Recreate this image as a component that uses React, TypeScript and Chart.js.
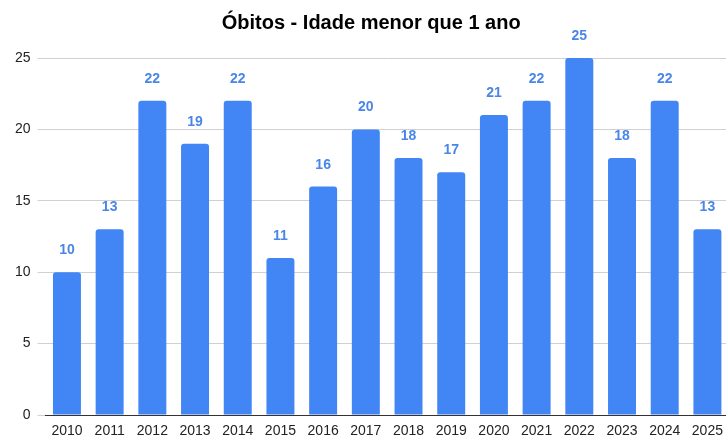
import React, { useEffect, useRef } from "react";
import { Chart, registerables } from "chart.js";

Chart.register(...registerables);

const years = ["2010","2011","2012","2013","2014","2015","2016","2017","2018","2019","2020","2021","2022","2023","2024","2025"];
const deaths = [10, 13, 22, 19, 22, 11, 16, 20, 18, 17, 21, 22, 25, 18, 22, 13];
const yTicks = [0, 5, 10, 15, 20, 25];
const titleText = "Óbitos - Idade menor que 1 ano";

const FONT = "'Liberation Sans', Arial, sans-serif";

const labelPlugin = {
  id: "barLabels",
  afterDatasetsDraw(chart: any) {
    const ctx = chart.ctx;
    const meta = chart.getDatasetMeta(0);
    ctx.save();
    ctx.font = `bold 14px ${FONT}`;
    ctx.fillStyle = "#4a86e8";
    ctx.textAlign = "center";
    ctx.textBaseline = "alphabetic";
    meta.data.forEach((el: any, i: number) => {
      ctx.fillText(String(deaths[i]), el.x, el.y - 18);
    });
    ctx.restore();
  },
};

export default function App() {
  const ref = useRef<HTMLCanvasElement | null>(null);
  useEffect(() => {
    if (!ref.current) return;
    const chart = new Chart(ref.current, {
      type: "bar",
      data: {
        labels: years,
        datasets: [
          {
            data: deaths,
            backgroundColor: "#4285f4",
            borderRadius: { topLeft: 3, topRight: 3, bottomLeft: 0, bottomRight: 0 },
            borderSkipped: "bottom",
            categoryPercentage: 1,
            barPercentage: 0.655,
          },
        ],
      },
      options: {
        responsive: false,
        animation: false,
        layout: { padding: { left: 12, right: 0.6, top: 0, bottom: 0 } },
        plugins: {
          legend: { display: false },
          tooltip: { enabled: false },
          title: {
            display: true,
            text: titleText,
            color: "#000",
            font: { family: FONT, size: 20, weight: "bold" },
            padding: { top: 11, bottom: 23 },
          },
        },
        scales: {
          x: {
            grid: { display: false, drawTicks: false },
            border: { display: true, color: "#333", width: 1 },
            ticks: {
              color: "#222",
              font: { family: FONT, size: 14 },
              padding: 8,
              maxRotation: 0,
              autoSkip: false,
            },
            afterFit: (s: any) => { s.height = 20; },
          },
          y: {
            min: 0,
            max: 25,
            afterBuildTicks: (s: any) => { s.ticks = yTicks.map((v) => ({ value: v })); },
            grid: { color: "#d0d0d0", drawTicks: true, tickLength: 8 },
            border: { display: false },
            ticks: {
              color: "#222",
              font: { family: FONT, size: 14 },
              padding: 7,
            },
            afterFit: (s: any) => { s.width = 33.6; },
          },
        },
      },
      plugins: [labelPlugin],
    });
    return () => chart.destroy();
  }, []);
  return (
    <div style={{ position: "absolute", left: 0, top: 0, width: 726, height: 435, overflow: "hidden", background: "#fff" }}>
      <canvas ref={ref} width={731} height={435} style={{ display: "block" }} />
    </div>
  );
}
